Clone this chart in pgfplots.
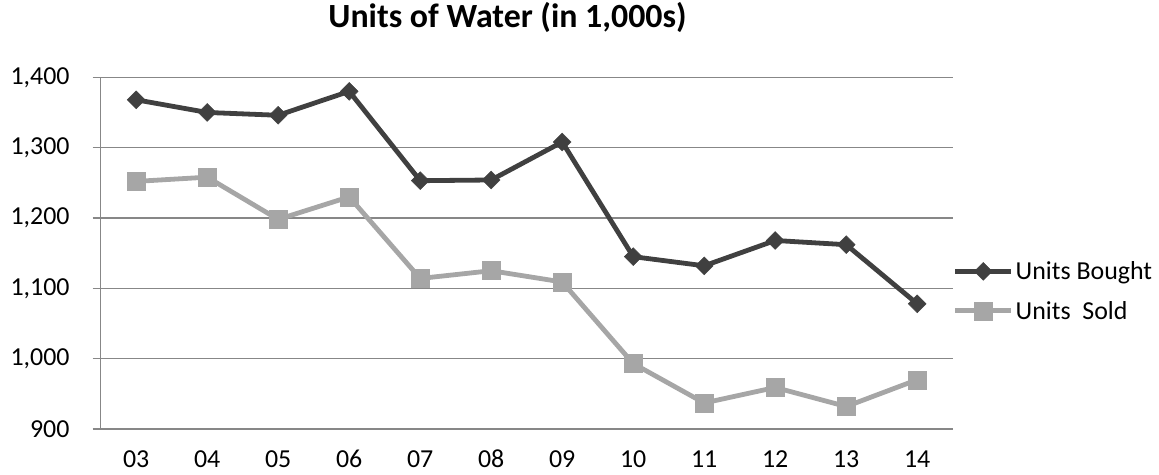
\documentclass[border=0pt]{standalone}
\usepackage{pgfplots}
\pgfplotsset{compat=1.18}
\usepackage{fontspec}
\setmainfont{Carlito}
\definecolor{bought}{HTML}{404040}
\definecolor{sold}{HTML}{A6A6A6}
\definecolor{gridc}{HTML}{878787}
\begin{document}
\begin{tikzpicture}[x=1bp,y=1bp]
\useasboundingbox (0,0) rectangle (1159,475);
\begin{axis}[
  at={(100.7bp,46bp)}, anchor=south west,
  scale only axis, width=852bp, height=351.7bp,
  xmin=-0.5, xmax=11.5, ymin=900, ymax=1400,
  axis lines*=left,
  axis line style={gridc, line width=1.5bp},
  xtick={0,...,11},
  xticklabels={03,04,05,06,07,08,09,10,11,12,13,14},
  xtick style={draw=none},
  minor xtick={-0.5,0.5,...,11.5},
  minor tick length=8bp,
  major tick length=8bp,
  tick align=outside,
  minor x tick style={gridc, line width=1.5bp},
  ytick={900,1000,...,1400},
  ytick style={gridc, line width=1.5bp},
  ymajorgrids,
  major grid style={gridc, line width=1.5bp},
  /pgf/number format/.cd, 1000 sep={,}, assume math mode=true,
  /pgfplots/.cd,
  tick label style={font=\fontsize{26}{31}\selectfont, text=black},
  yticklabel style={inner sep=0pt, xshift=-23bp},
  xticklabel style={inner sep=0pt, text depth=0pt, anchor=base, yshift=-31bp},
  title={\bfseries Units of Water (in 1,000s)},
  title style={font=\fontsize{34}{40}\selectfont, at={(axis description cs:0.4775,1)}, anchor=base, yshift=44bp, inner sep=0pt},
  legend style={draw=none, fill=none, at={(axis description cs:1.0,0.392)}, anchor=west, inner sep=0pt,
    font=\fontsize{26}{31}\selectfont, row sep=16bp,
    nodes={inner sep=2bp}},
  legend cell align=left,
  legend image code/.code={\draw[mark repeat=2,mark phase=2,#1] plot coordinates {(0bp,0bp) (28bp,0bp) (56bp,0bp)};},
  clip=false,
]
\addplot[bought, line width=4.8bp, mark=square*, mark size=6.3bp, mark options={rotate=45, draw=bought, fill=bought, line width=0.5bp}]
  coordinates {(0,1368) (1,1350) (2,1346) (3,1380) (4,1253) (5,1254) (6,1308) (7,1145) (8,1132) (9,1168) (10,1162) (11,1078)};
\addlegendentry{Units Bought}
\addplot[sold, line width=4.8bp, mark=square*, mark size=9bp, mark options={draw=sold, fill=sold, line width=0.5bp}]
  coordinates {(0,1252) (1,1258) (2,1198) (3,1230) (4,1114) (5,1125) (6,1109) (7,993) (8,937) (9,959) (10,932) (11,970)};
\addlegendentry{Units\ \ Sold}
\end{axis}
\end{tikzpicture}
\end{document}
